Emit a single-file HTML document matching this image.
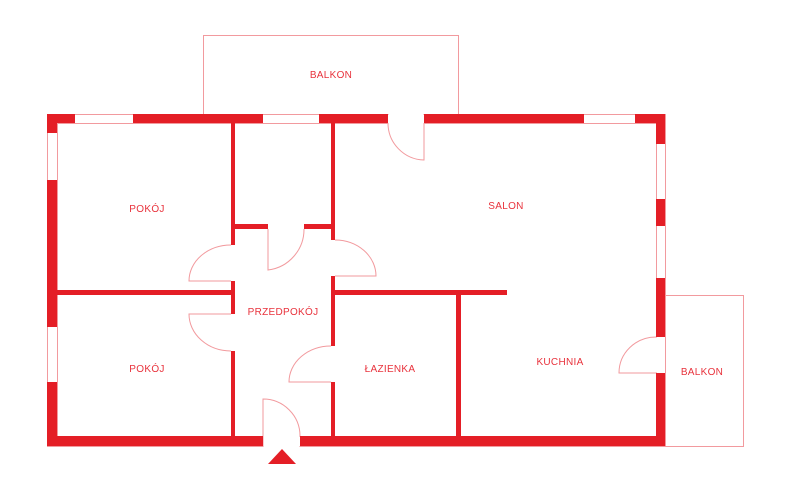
<!DOCTYPE html>
<html><head><meta charset="utf-8"><style>
html,body{margin:0;padding:0;background:#fff;width:790px;height:500px;overflow:hidden}
svg{display:block}
text{font-family:"Liberation Sans",sans-serif;font-size:10px;fill:#e8323c;text-anchor:middle;letter-spacing:0.3px}
</style></head><body>
<svg width="790" height="500" viewBox="0 0 790 500">
<g fill="none" stroke="#f29a9e" stroke-width="1">
<rect x="203.5" y="35.5" width="255" height="79"/>
<rect x="665.5" y="295.5" width="78" height="151"/>
<rect x="47.5" y="114.5" width="618" height="332"/>
<rect x="57.5" y="123.5" width="599" height="313"/>
</g>
<g fill="#fff">
<rect x="388.5" y="113" width="35" height="11"/>
<rect x="263.5" y="435" width="36" height="12"/>
<rect x="655" y="337.5" width="11.5" height="35"/>
</g>
<g fill="none" stroke="#f29a9e" stroke-width="1">
<line x1="458.5" y1="35" x2="458.5" y2="115"/>
<line x1="665.5" y1="295" x2="665.5" y2="447"/>
<path d="M424 123 V160 A37 37 0 0 1 388 123"/>
<path d="M268 229 V270 A41 41 0 0 0 304 229"/>
<path d="M231 281 H189 A42 36 0 0 1 231 245"/>
<path d="M335 276 H376 A41 36 0 0 0 335 240"/>
<path d="M231 314 H189 A42 37 0 0 0 231 351"/>
<path d="M331 382 H289 A42 36 0 0 1 331 346"/>
<path d="M263 446 V399 A37 37 0 0 1 300 436"/>
<path d="M656 373 H619 A37 36 0 0 1 656 337"/>
</g>
<g fill="#e41e26">
<rect x="47" y="114" width="28" height="9"/>
<rect x="133" y="114" width="130" height="9"/>
<rect x="319" y="114" width="69" height="9"/>
<rect x="424" y="114" width="160" height="9"/>
<rect x="635" y="114" width="30" height="9"/>
<rect x="47" y="114" width="10" height="19"/>
<rect x="47" y="180" width="10" height="147"/>
<rect x="47" y="382" width="10" height="64"/>
<rect x="656" y="114" width="9" height="30"/>
<rect x="656" y="199" width="9" height="27"/>
<rect x="656" y="278" width="9" height="59"/>
<rect x="656" y="373" width="9" height="73"/>
<rect x="47" y="436" width="216" height="10"/>
<rect x="300" y="436" width="365" height="10"/>
<rect x="231" y="123" width="4" height="122"/>
<rect x="231" y="281" width="4" height="33"/>
<rect x="231" y="351" width="4" height="85"/>
<rect x="57" y="290" width="174" height="5"/>
<rect x="235" y="224" width="33" height="5"/>
<rect x="304" y="224" width="27" height="5"/>
<rect x="331" y="123" width="4" height="117"/>
<rect x="331" y="276" width="4" height="70"/>
<rect x="331" y="382" width="4" height="54"/>
<rect x="335" y="290" width="172" height="5"/>
<rect x="456" y="295" width="5" height="141"/>
<polygon points="282,449 296,464 268,464"/>
</g>
<text x="147" y="212">POKÓJ</text>
<text x="147" y="372">POKÓJ</text>
<text x="283" y="315">PRZEDPOKÓJ</text>
<text x="390" y="372">ŁAZIENKA</text>
<text x="506" y="209">SALON</text>
<text x="560" y="365">KUCHNIA</text>
<text x="331" y="78">BALKON</text>
<text x="702" y="375">BALKON</text>
</svg>
</body></html>
